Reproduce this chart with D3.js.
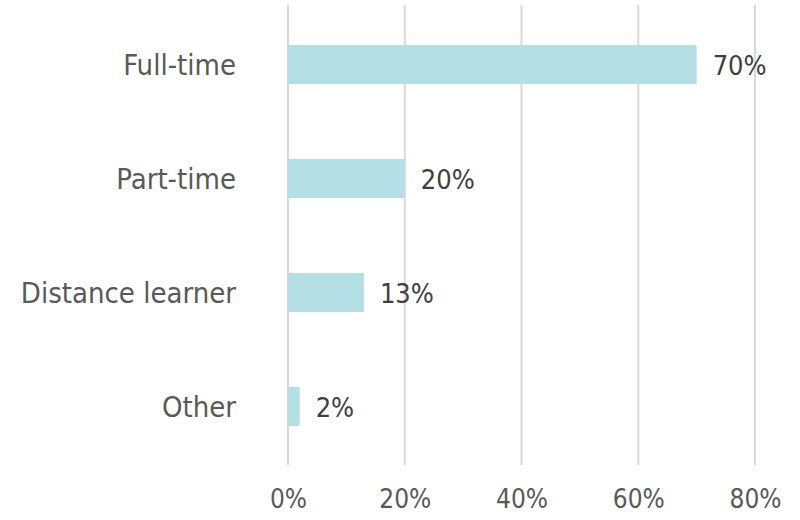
<!DOCTYPE html>
<html><head><meta charset="utf-8">
<script src="https://cdn.jsdelivr.net/npm/d3@7"></script>
<style>body{margin:0;background:#fff}svg{display:block}text{font-family:"DejaVu Sans Condensed","DejaVu Sans",sans-serif}</style>
</head><body><svg id="c" width="800" height="520"></svg>
<script>
const categories = ["Full-time","Part-time","Distance learner","Other"];
const values = [0.70,0.20,0.13,0.02];
const valueLabels = ["70%","20%","13%","2%"];
const tickValues = [0,0.2,0.4,0.6,0.8];
const tickLabels = ["0%","20%","40%","60%","80%"];

const svg = d3.select("#c");
const x = d3.scaleLinear().domain([0,0.8]).range([288,755]);
const y = d3.scaleBand().domain(categories).range([7.5,463.5]).paddingInner(0.658).paddingOuter(0.329);

svg.append("g").selectAll("line").data(tickValues).join("line")
  .attr("x1",d=>x(d)).attr("x2",d=>x(d)).attr("y1",5).attr("y2",465)
  .attr("stroke","#d9d9d9").attr("stroke-width",2);

const xAxis = d3.axisBottom(x).tickValues(tickValues).tickFormat((d,i)=>tickLabels[i]).tickSize(0).tickPadding(0);
const gx = svg.append("g").attr("transform","translate(0,490)").call(xAxis);
gx.select(".domain").remove();
gx.selectAll("text").attr("fill","#595959").style("font-size","26px").attr("dy","0.71em");

svg.append("g").selectAll("rect").data(categories).join("rect")
  .attr("x",x(0)).attr("y",d=>y(d)).attr("width",(d,i)=>x(values[i])-x(0)).attr("height",y.bandwidth())
  .attr("fill","#b4e0e5");

svg.append("g").selectAll("text").data(categories).join("text")
  .attr("x",236).attr("y",d=>y(d)+y.bandwidth()/2).attr("dy","0.36em")
  .attr("text-anchor","end").attr("fill","#595959").style("font-size","29px").text(d=>d);

svg.append("g").selectAll("text").data(categories).join("text")
  .attr("x",(d,i)=>x(values[i])+16).attr("y",d=>y(d)+y.bandwidth()/2).attr("dy","0.4em")
  .attr("fill","#404040").style("font-size","27px").text((d,i)=>valueLabels[i]);
</script></body></html>
